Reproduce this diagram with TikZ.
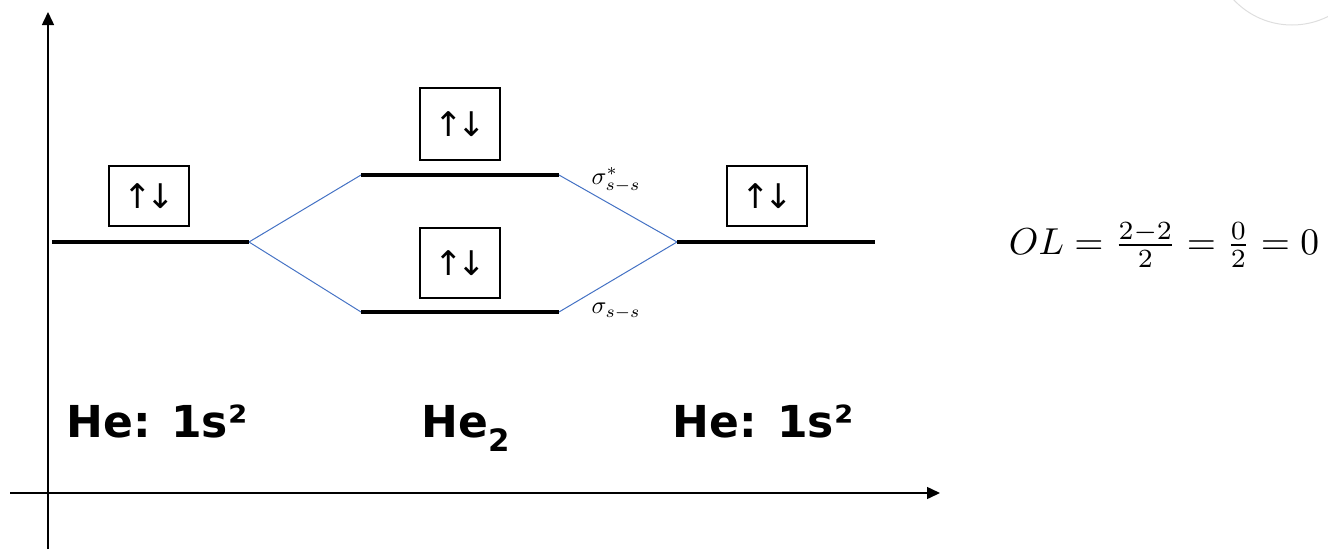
\documentclass[tikz,border=0pt]{standalone}
\usepackage{amsmath}
\usepackage{fontspec}
\newfontfamily\lblfont{DejaVu Sans}
\usetikzlibrary{arrows.meta}
\begin{document}
\begin{tikzpicture}[x=1pt,y=-1pt,
  level/.style={line width=4.5pt},
  mo/.style={draw={rgb,255:red,68;green,114;blue,196},line width=1pt},
  axis/.style={line width=1.5pt,-{Triangle[length=13pt,width=12pt]}},
  spinbox/.style={draw,line width=1.5pt,minimum width=80pt,minimum height=60pt,inner sep=0pt,font=\lblfont\fontsize{34}{40}\selectfont},
  atomlbl/.style={font=\lblfont\bfseries\fontsize{44}{50}\selectfont,anchor=base},
  sig/.style={scale=2.45,anchor=west}]
\useasboundingbox (0,0) rectangle (1328,549);
% faint arc top right
\draw[black!13,line width=1pt] (1292,-55) circle[radius=80];
% axes
\coordinate (yb) at (48,549);
\coordinate (yt) at (48,12);
\coordinate (xl) at (10,493);
\coordinate (xr) at (940,493);
\draw[axis] (yb) -- (yt);
\draw[axis] (xl) -- (xr);
% levels
\coordinate (L1) at (52,242); \coordinate (L2) at (249,242);
\coordinate (R1) at (677,242); \coordinate (R2) at (875,242);
\coordinate (U1) at (361,175); \coordinate (U2) at (559,175);
\coordinate (D1) at (361,312); \coordinate (D2) at (559,312);
\draw[mo] (L2) -- (U1);
\draw[mo] (L2) -- (D1);
\draw[mo] (U2) -- (R1);
\draw[mo] (D2) -- (R1);
\draw[level] (L1) -- (L2);
\draw[level] (R1) -- (R2);
\draw[level] (U1) -- (U2);
\draw[level] (D1) -- (D2);
% boxes
\node[spinbox] (bl) at (149,196) {↑\kern-5pt↓};
\node[spinbox,minimum height=72pt] (bu) at (460,124) {↑\kern-5pt↓};
\node[spinbox,minimum height=70pt] (bd) at (460,263) {↑\kern-5pt↓};
\node[spinbox] (br) at (767,196) {↑\kern-5pt↓};
% sigma labels
\node[sig] (su) at (583,180) {$\sigma^{*}_{s-s}$};
\node[sig] (sd) at (583,311) {$\sigma_{s-s}$};
% atom labels
\node[atomlbl] (al) at (157,437) {He: 1s²};
\node[atomlbl] (am) at (466,437) {He\textsubscript{2}};
\node[atomlbl] (ar) at (763,437) {He: 1s²};
% equation
\node[scale=3.75] (eq) at (1164,245) {$OL=\frac{2-2}{2}=\frac{0}{2}=0$};
\end{tikzpicture}
\end{document}
